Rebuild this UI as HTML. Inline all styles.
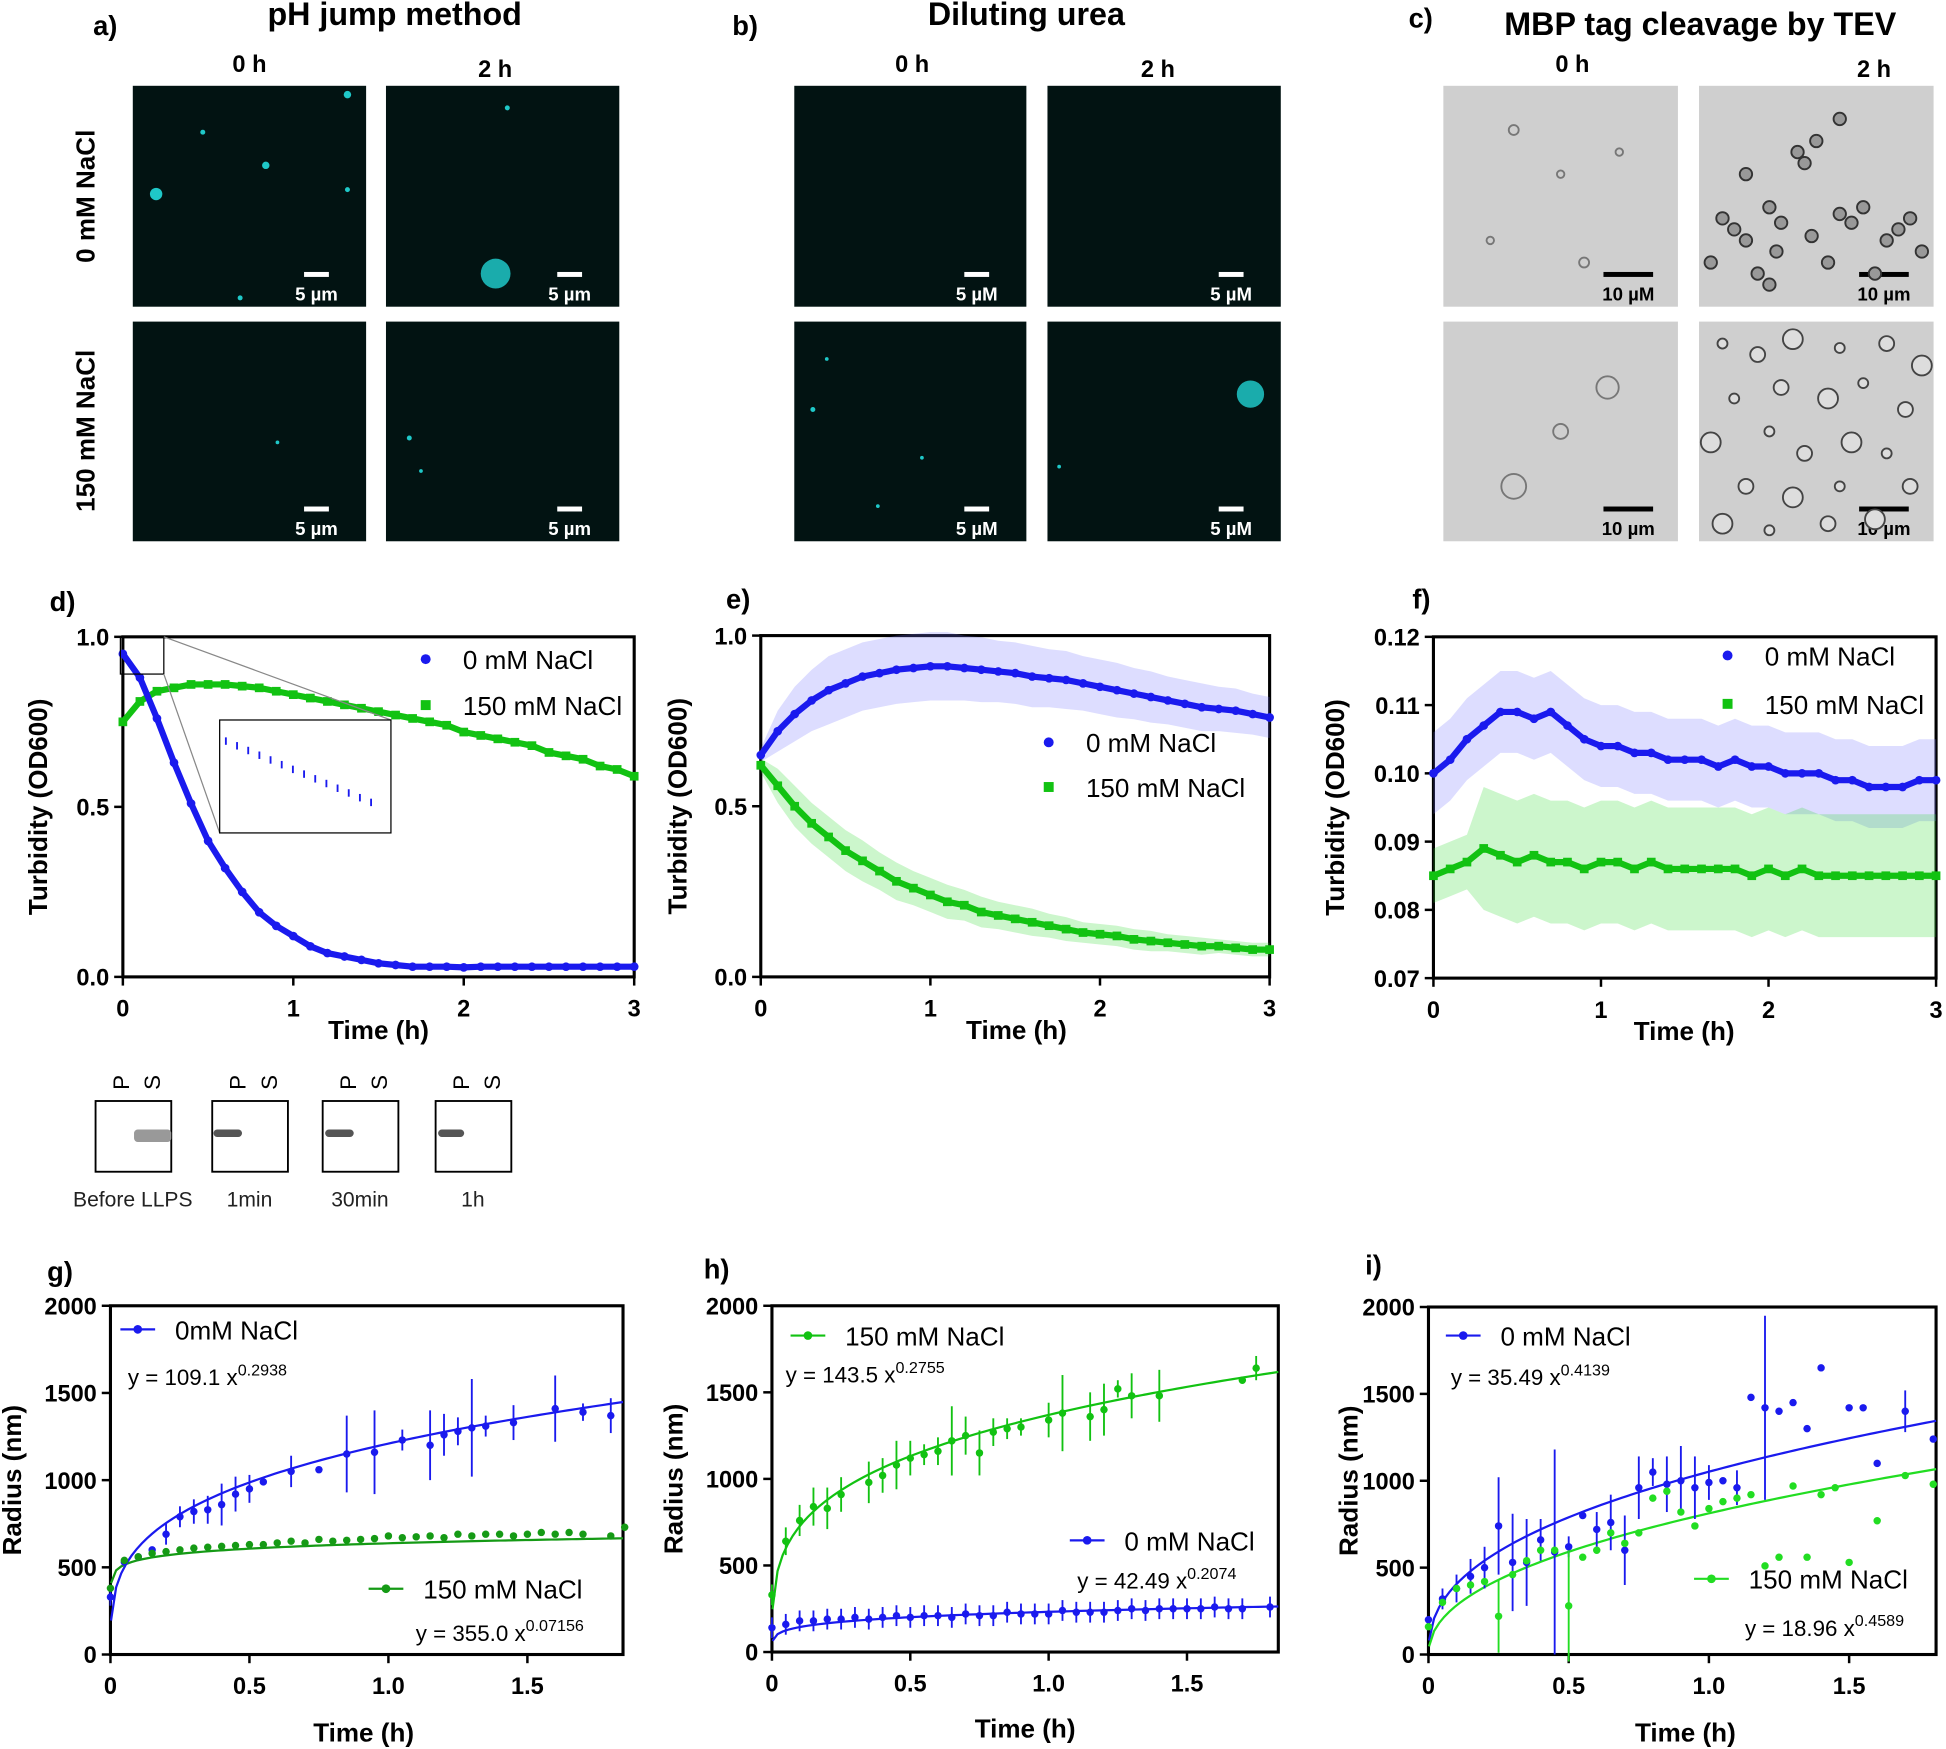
<!DOCTYPE html>
<html><head><meta charset="utf-8">
<style>
html,body{margin:0;padding:0;background:#fff;}
svg{display:block;font-family:"Liberation Sans",Arial,sans-serif;}
</style></head>
<body>
<svg id="fig" width="1946" height="1749" viewBox="0 0 1568 1409" xmlns="http://www.w3.org/2000/svg"></svg>
<script>
// ---------- DATA ----------
const turbTimes = [0,0.1,0.2,0.3,0.4,0.5,0.6,0.7,0.8,0.9,1.0,1.1,1.2,1.3,1.4,1.5,1.6,1.7,1.8,1.9,2.0,2.1,2.2,2.3,2.4,2.5,2.6,2.7,2.8,2.9,3.0];
const dBlue = [0.95,0.88,0.76,0.63,0.51,0.40,0.32,0.25,0.19,0.15,0.12,0.09,0.07,0.06,0.05,0.04,0.035,0.03,0.03,0.03,0.028,0.03,0.03,0.03,0.03,0.03,0.03,0.03,0.03,0.03,0.03];
const dGreen = [0.75,0.81,0.84,0.85,0.86,0.86,0.86,0.855,0.85,0.84,0.83,0.82,0.81,0.80,0.79,0.78,0.77,0.76,0.75,0.74,0.72,0.71,0.70,0.69,0.68,0.66,0.65,0.64,0.62,0.61,0.59];
const eBlue = [0.65,0.72,0.77,0.81,0.84,0.86,0.88,0.89,0.90,0.905,0.91,0.91,0.905,0.90,0.895,0.89,0.88,0.875,0.87,0.86,0.85,0.84,0.83,0.82,0.81,0.80,0.79,0.785,0.78,0.77,0.76];
const eBlueErr = [0.02,0.06,0.08,0.09,0.10,0.10,0.10,0.10,0.10,0.10,0.10,0.10,0.095,0.095,0.09,0.09,0.09,0.085,0.085,0.08,0.08,0.08,0.075,0.075,0.07,0.07,0.07,0.065,0.065,0.06,0.06];
const eGreen = [0.62,0.56,0.50,0.45,0.41,0.37,0.34,0.31,0.28,0.26,0.24,0.22,0.21,0.19,0.18,0.17,0.16,0.15,0.14,0.13,0.125,0.12,0.11,0.105,0.10,0.095,0.09,0.09,0.085,0.08,0.08];
const eGreenErr = [0.02,0.05,0.06,0.06,0.06,0.06,0.06,0.055,0.055,0.05,0.05,0.05,0.045,0.045,0.04,0.04,0.04,0.035,0.035,0.03,0.03,0.03,0.03,0.03,0.025,0.025,0.025,0.02,0.02,0.02,0.02];
const fBlue = [0.100,0.102,0.105,0.107,0.109,0.109,0.108,0.109,0.107,0.105,0.104,0.104,0.103,0.103,0.102,0.102,0.102,0.101,0.102,0.101,0.101,0.100,0.100,0.100,0.099,0.099,0.098,0.098,0.098,0.099,0.099];
const fGreen = [0.085,0.086,0.087,0.089,0.088,0.087,0.088,0.087,0.087,0.086,0.087,0.087,0.086,0.087,0.086,0.086,0.086,0.086,0.086,0.085,0.086,0.085,0.086,0.085,0.085,0.085,0.085,0.085,0.085,0.085,0.085];

const gBlueT = [0,0.05,0.1,0.15,0.2,0.25,0.3,0.35,0.4,0.45,0.5,0.55,0.65,0.75,0.85,0.95,1.05,1.15,1.2,1.25,1.3,1.35,1.45,1.6,1.7,1.8];
const gBlueV = [330,530,560,600,690,790,820,830,860,920,950,990,1050,1060,1150,1160,1230,1200,1260,1280,1300,1310,1330,1410,1390,1370];
const gBlueE = [50,40,40,40,60,60,70,80,120,100,80,40,90,40,220,240,60,200,120,80,280,60,100,190,50,100];
const gGreenT = [0,0.05,0.1,0.15,0.2,0.25,0.3,0.35,0.4,0.45,0.5,0.55,0.6,0.65,0.7,0.75,0.8,0.85,0.9,0.95,1.0,1.05,1.1,1.15,1.2,1.25,1.3,1.35,1.4,1.45,1.5,1.55,1.6,1.65,1.7,1.8,1.85];
const gGreenV = [380,540,560,580,590,600,610,615,620,625,630,630,640,650,640,660,650,655,660,665,680,670,675,680,670,690,680,690,690,680,690,700,690,700,690,680,730];
const hGreenT = [0,0.05,0.1,0.15,0.2,0.25,0.35,0.4,0.45,0.5,0.55,0.6,0.65,0.7,0.75,0.8,0.85,0.9,1.0,1.05,1.15,1.2,1.25,1.3,1.4,1.7,1.75];
const hGreenV = [330,640,760,840,830,910,980,1020,1080,1120,1140,1160,1220,1250,1150,1270,1290,1300,1340,1380,1360,1400,1520,1480,1480,1570,1640];
const hGreenE = [60,80,90,110,120,100,120,100,140,100,60,80,200,110,130,80,60,50,100,220,140,150,50,130,150,30,70];
const hBlueT = [0,0.05,0.1,0.15,0.2,0.25,0.3,0.35,0.4,0.45,0.5,0.55,0.6,0.65,0.7,0.75,0.8,0.85,0.9,0.95,1.0,1.05,1.1,1.15,1.2,1.25,1.3,1.35,1.4,1.45,1.5,1.55,1.6,1.65,1.7,1.8];
const hBlueV = [140,160,180,180,190,190,200,190,200,210,200,210,210,200,220,210,210,230,220,220,220,240,230,230,230,240,250,240,250,250,250,250,260,250,250,260];
const iBlueT = [0,0.05,0.1,0.15,0.2,0.25,0.3,0.35,0.4,0.45,0.5,0.55,0.6,0.65,0.7,0.75,0.8,0.85,0.9,0.95,1.0,1.05,1.1,1.15,1.2,1.25,1.3,1.35,1.4,1.5,1.55,1.6,1.7,1.8];
const iBlueV = [200,320,380,450,500,740,530,530,660,590,620,800,720,760,600,960,1050,980,1000,960,990,1000,960,1480,1420,1400,1450,1300,1650,1420,1420,1100,1400,1240];
const iBlueE = [40,60,80,100,120,280,280,250,120,590,60,40,100,160,200,180,80,160,200,180,100,40,100,40,530,40,40,40,40,40,40,40,120,40];
const iGreenT = [0,0.05,0.1,0.15,0.2,0.25,0.3,0.35,0.4,0.45,0.5,0.55,0.6,0.65,0.7,0.75,0.8,0.85,0.9,0.95,1.0,1.05,1.1,1.15,1.2,1.25,1.3,1.35,1.4,1.45,1.5,1.6,1.7,1.8];
const iGreenV = [160,300,380,400,420,220,460,540,600,600,280,560,600,700,640,700,900,940,820,740,840,880,900,920,510,560,970,560,920,960,530,770,1030,980];
const fitCoef = [109.1,355.0,143.5,42.49,35.49,18.96];
const fitExp = [0.2938,0.07156,0.2755,0.2074,0.4139,0.4589];

// ---------- helpers ----------
const svg = document.getElementById('fig');
const NS = 'http://www.w3.org/2000/svg';
function mk(tag, attrs, name, parent){
  const el = document.createElementNS(NS, tag);
  for (const k in attrs) el.setAttribute(k, attrs[k]);
  
  
  (parent||svg).appendChild(el);
  return el;
}
function txt(x,y,s,opts,name){
  const o = Object.assign({x:x,y:y,'font-size':20,fill:'#000'},opts||{});
  const t = mk('text',o,name);
  t.textContent = s;
  return t;
}
const BLUE='#1a1aee', GREEN='#12c212', LGREEN='#22dd22', DGREEN='#159a15';

// ---------- titles ----------
txt(75,28,'a)',{'font-weight':'bold','font-size':22},'panel-a-label');
txt(318,20,'pH jump method',{'font-weight':'bold','font-size':26,'text-anchor':'middle'},'panel-a-title');
txt(590,28,'b)',{'font-weight':'bold','font-size':22},'panel-b-label');
txt(827,20,'Diluting urea',{'font-weight':'bold','font-size':26,'text-anchor':'middle'},'panel-b-title');
txt(1135,22,'c)',{'font-weight':'bold','font-size':22},'panel-c-label');
txt(1370,28,'MBP tag cleavage by TEV',{'font-weight':'bold','font-size':26,'text-anchor':'middle'},'panel-c-title');
[[201,'0 h'],[399,'2 h'],[735,'0 h'],[933,'2 h'],[1267,'0 h'],[1510,'2 h']].forEach((p,i)=>{
  txt(p[0],i%2?62:58,p[1],{'font-weight':'bold','font-size':19,'text-anchor':'middle'},'time-header');
});
txt(0,0,'0 mM NaCl',{'font-weight':'bold','font-size':21,'text-anchor':'middle',transform:'translate(76,158) rotate(-90)'},'row-label-0mm');
txt(0,0,'150 mM NaCl',{'font-weight':'bold','font-size':21,'text-anchor':'middle',transform:'translate(76,347) rotate(-90)'},'row-label-150mm');

// ---------- micrographs ----------
function micro(x,y,w,h,gray,dots,scale,name){
  mk('rect',{x:x,y:y,width:w,height:h,fill:gray?'#cfcfcf':'#021312'},name);
  dots.forEach(d=>mk('circle',{cx:x+d[0]*w,cy:y+d[1]*h,r:d[2],fill:gray?'none':'#1fc8c8',stroke:gray?'#777':'none','stroke-width':gray?1.5:0,opacity:(!gray&&d[2]>8)?0.85:1},'droplet'));
  const bw = gray?40:20;
  mk('rect',{x:x+w-40-bw/2,y:y+h-28,width:bw,height:4,fill:gray?'#000':'#fff'},'scale-bar');
  txt(x+w-40,y+h-5,scale,{'font-size':15,'font-weight':'bold','text-anchor':'middle',fill:gray?'#000':'#fff'},'scale-label');
}
micro(107,69,188,178,false,[[0.1,0.49,5],[0.57,0.36,3],[0.3,0.21,2],[0.92,0.47,2],[0.92,0.04,3],[0.46,0.96,2]],'5 µm','micrograph-a-0h-0mm');
micro(311,69,188,178,false,[[0.47,0.85,12],[0.52,0.1,2]],'5 µm','micrograph-a-2h-0mm');
micro(107,259,188,177,false,[[0.62,0.55,1.5]],'5 µm','micrograph-a-0h-150mm');
micro(311,259,188,177,false,[[0.1,0.53,2],[0.15,0.68,1.5]],'5 µm','micrograph-a-2h-150mm');
micro(640,69,187,178,false,[],'5 µM','micrograph-b-0h-0mm');
micro(844,69,188,178,false,[],'5 µM','micrograph-b-2h-0mm');
micro(640,259,187,177,false,[[0.08,0.4,2],[0.14,0.17,1.5],[0.55,0.62,1.5],[0.36,0.84,1.5]],'5 µM','micrograph-b-0h-150mm');
micro(844,259,188,177,false,[[0.87,0.33,11],[0.05,0.66,1.5]],'5 µM','micrograph-b-2h-150mm');
micro(1163,69,189,178,true,[[0.3,0.2,4],[0.5,0.4,3],[0.75,0.3,3],[0.2,0.7,3],[0.6,0.8,4]],'10 µM','micrograph-c-0h-0mm');
micro(1369,69,189,178,true,[],'10 µm','micrograph-c-2h-0mm');
micro(1163,259,189,177,true,[[0.3,0.75,10],[0.7,0.3,9],[0.5,0.5,6]],'10 µm','micrograph-c-0h-150mm');
micro(1369,259,189,177,true,[],'10 µm','micrograph-c-2h-150mm');
const clA=[[0.1,0.6],[0.15,0.65],[0.2,0.7],[0.3,0.55],[0.35,0.62],[0.42,0.3],[0.45,0.35],[0.5,0.25],[0.6,0.58],[0.65,0.62],[0.7,0.55],[0.8,0.7],[0.85,0.65],[0.9,0.6],[0.25,0.85],[0.3,0.9],[0.55,0.8],[0.95,0.75],[0.05,0.8],[0.75,0.85],[0.2,0.4],[0.6,0.15],[0.33,0.75],[0.48,0.68]];
clA.forEach(p=>mk('circle',{cx:1369+p[0]*189,cy:69+p[1]*178,r:5,fill:'#999',stroke:'#333','stroke-width':1.5},'droplet-cluster'));
const clB=[[0.1,0.1],[0.25,0.15],[0.4,0.08],[0.6,0.12],[0.8,0.1],[0.95,0.2],[0.15,0.35],[0.35,0.3],[0.55,0.35],[0.7,0.28],[0.88,0.4],[0.05,0.55],[0.3,0.5],[0.45,0.6],[0.65,0.55],[0.8,0.6],[0.2,0.75],[0.4,0.8],[0.6,0.75],[0.9,0.75],[0.1,0.92],[0.3,0.95],[0.55,0.92],[0.75,0.9]];
clB.forEach((p,i)=>mk('circle',{cx:1369+p[0]*189,cy:259+p[1]*177,r:4+(i%3)*2,fill:'#ddd',stroke:'#444','stroke-width':1.5},'droplet'));

// ---------- axes ----------
function makeAxes(c){
  const g = mk('g',{},c.name);
  c.sx = v => c.x0 + (v-c.xmin)/(c.xmax-c.xmin)*(c.x1-c.x0);
  c.sy = v => c.y0 - (v-c.ymin)/(c.ymax-c.ymin)*(c.y0-c.y1);
  mk('rect',{x:c.x0,y:c.y1,width:c.x1-c.x0,height:c.y0-c.y1,fill:'none',stroke:'#000','stroke-width':2.5},'plot-frame',g);
  c.xt.forEach((v,i)=>{
    mk('line',{x1:c.sx(v),x2:c.sx(v),y1:c.y0,y2:c.y0+7,stroke:'#000','stroke-width':2},'x-tick',g);
    txt(c.sx(v),c.y0+32,c.xtl[i],{'font-size':19,'font-weight':'bold','text-anchor':'middle'},'x-tick-label');
  });
  c.yt.forEach((v,i)=>{
    mk('line',{x1:c.x0-7,x2:c.x0,y1:c.sy(v),y2:c.sy(v),stroke:'#000','stroke-width':2},'y-tick',g);
    txt(c.x0-11,c.sy(v)+7,c.ytl[i],{'font-size':19,'font-weight':'bold','text-anchor':'end'},'y-tick-label');
  });
  txt(c.xlx,c.xly,'Time (h)',{'font-size':21,'font-weight':'bold','text-anchor':'middle'},'x-axis-title');
  txt(0,0,c.yl,{'font-size':21,'font-weight':'bold','text-anchor':'middle',transform:`translate(${c.ylx},${(c.y0+c.y1)/2}) rotate(-90)`},'y-axis-title');
  return c;
}
const tickT=[0,1,2,3], tickTL=['0','1','2','3'];
const tT=[0,0.5,1,1.5], tTL=['0','0.5','1.0','1.5'];
const rT=[0,500,1000,1500,2000], rTL=['0','500','1000','1500','2000'];
const D = makeAxes({name:'chart-d',x0:99,x1:511,y0:787,y1:513,xmin:0,xmax:3,ymin:0,ymax:1,xt:tickT,xtl:tickTL,yt:[0,0.5,1],ytl:['0.0','0.5','1.0'],yl:'Turbidity (OD600)',ylx:38,xlx:305,xly:837});
const E = makeAxes({name:'chart-e',x0:613,x1:1023,y0:787,y1:512,xmin:0,xmax:3,ymin:0,ymax:1,xt:tickT,xtl:tickTL,yt:[0,0.5,1],ytl:['0.0','0.5','1.0'],yl:'Turbidity (OD600)',ylx:553,xlx:819,xly:837});
const F = makeAxes({name:'chart-f',x0:1155,x1:1560,y0:788,y1:513,xmin:0,xmax:3,ymin:0.07,ymax:0.12,xt:tickT,xtl:tickTL,yt:[0.07,0.08,0.09,0.10,0.11,0.12],ytl:['0.07','0.08','0.09','0.10','0.11','0.12'],yl:'Turbidity (OD600)',ylx:1083,xlx:1357,xly:838});
const G = makeAxes({name:'chart-g',x0:89,x1:502,y0:1333,y1:1052,xmin:0,xmax:1.844,ymin:0,ymax:2000,xt:tT,xtl:tTL,yt:rT,ytl:rTL,yl:'Radius (nm)',ylx:17,xlx:293,xly:1403});
const H = makeAxes({name:'chart-h',x0:622,x1:1030,y0:1331,y1:1052,xmin:0,xmax:1.83,ymin:0,ymax:2000,xt:tT,xtl:tTL,yt:rT,ytl:rTL,yl:'Radius (nm)',ylx:550,xlx:826,xly:1400});
const I = makeAxes({name:'chart-i',x0:1151,x1:1560,y0:1333,y1:1053,xmin:0,xmax:1.81,ymin:0,ymax:2000,xt:tT,xtl:tTL,yt:rT,ytl:rTL,yl:'Radius (nm)',ylx:1094,xlx:1358,xly:1403});

// ---------- turbidity series ----------
function band(c,t,v,e,color,name){
  let up=t.map((x,i)=>c.sx(x)+','+c.sy(v[i]+e[i])).join(' ');
  let dn=t.map((x,i)=>c.sx(x)+','+c.sy(v[i]-e[i])).reverse().join(' ');
  mk('polygon',{points:up+' '+dn,fill:color,opacity:0.25},name);
}
function turbSeries(c,t,v,color,shape,name){
  mk('polyline',{points:t.map((x,i)=>c.sx(x)+','+c.sy(v[i])).join(' '),fill:'none',stroke:color,'stroke-width':5},name+'-line');
  t.forEach((x,i)=>{
    if(shape==='sq') mk('rect',{x:c.sx(x)-3.5,y:c.sy(v[i])-3.5,width:7,height:7,fill:color},name+'-point');
    else mk('circle',{cx:c.sx(x),cy:c.sy(v[i]),r:3.5,fill:color},name+'-point');
  });
}
turbSeries(D,turbTimes,dGreen,GREEN,'sq','d-150mm');
turbSeries(D,turbTimes,dBlue,BLUE,'c','d-0mm');
band(E,turbTimes,eBlue,eBlueErr,'#7777ff','e-0mm-error');
band(E,turbTimes,eGreen,eGreenErr,'#33dd33','e-150mm-error');
turbSeries(E,turbTimes,eBlue,BLUE,'c','e-0mm');
turbSeries(E,turbTimes,eGreen,GREEN,'sq','e-150mm');
band(F,turbTimes,fBlue,fBlue.map(()=>0.006),'#7777ff','f-0mm-error');
band(F,turbTimes,fGreen,fGreen.map((v,i)=>i<3?0.004:0.009),'#33dd33','f-150mm-error');
turbSeries(F,turbTimes,fBlue,BLUE,'c','f-0mm');
turbSeries(F,turbTimes,fGreen,GREEN,'sq','f-150mm');
mk('rect',{x:97,y:513,width:35,height:30,fill:'none',stroke:'#000','stroke-width':1},'inset-region');
mk('line',{x1:132,y1:513,x2:315,y2:580,stroke:'#888','stroke-width':1},'inset-connector');
mk('line',{x1:132,y1:543,x2:177,y2:671,stroke:'#888','stroke-width':1},'inset-connector');
mk('rect',{x:177,y:580,width:138,height:91,fill:'#fff',stroke:'#000','stroke-width':1},'inset-box');
for(let k=0;k<14;k++) mk('line',{x1:182+k*9,x2:182+k*9,y1:594+k*3.8,y2:600+k*3.8,stroke:BLUE,'stroke-width':1.5},'inset-point');

function legTurb(x,y1,y2){
  mk('circle',{cx:x,cy:y1,r:4,fill:BLUE},'legend-marker-0mm');
  txt(x+30,y1+8,'0 mM NaCl',{'font-size':21},'legend-0mm');
  mk('rect',{x:x-4,y:y2-4,width:8,height:8,fill:GREEN},'legend-marker-150mm');
  txt(x+30,y2+8,'150 mM NaCl',{'font-size':21},'legend-150mm');
}
legTurb(343,531,568); legTurb(845,598,634); legTurb(1392,528,567);

// ---------- gels ----------
[[77,'Before LLPS',[108,110]],[171,'1min',[172,195]],[260,'30min',[262,285]],[351,'1h',[353,374]]].forEach((g,i)=>{
  mk('rect',{x:g[0],y:887,width:61,height:57,fill:'#fff',stroke:'#000','stroke-width':1.5},'gel-strip');
  mk('rect',{x:g[2][0],y:910,width:g[2][1]-g[2][0]+(i===0?28:0),height:i===0?10:6,fill:i===0?'#999':'#555',rx:3},'gel-band');
  txt(0,0,'P',{'font-size':18,transform:`translate(${g[0]+27},${878}) rotate(-90)`},'lane-label-p');
  txt(0,0,'S',{'font-size':18,transform:`translate(${g[0]+52},${878}) rotate(-90)`},'lane-label-s');
  txt(g[0]+30,972,g[1],{'font-size':17,'text-anchor':'middle',fill:'#222'},'gel-label');
});

// ---------- DLS charts ----------
function fit(c,k,color,name){
  const a=fitCoef[k], b=fitExp[k]; const pts=[];
  for(let i=0;i<=100;i++){const t=0.002+i*(c.xmax-0.002)/100; const v=a*Math.pow(t*3600,b); pts.push(c.sx(t)+','+c.sy(Math.min(v,2000)));}
  mk('polyline',{points:pts.join(' '),fill:'none',stroke:color,'stroke-width':1.8},name);
}
function pts(c,t,v,e,color,name){
  t.forEach((x,i)=>{
    if(e && e[i]>40) mk('line',{x1:c.sx(x),x2:c.sx(x),y1:c.sy(v[i]-e[i]),y2:c.sy(v[i]+e[i]),stroke:color,'stroke-width':1.5},name+'-errorbar');
    mk('circle',{cx:c.sx(x),cy:c.sy(v[i]),r:3,fill:color},name+'-point');
  });
}
fit(G,0,BLUE,'g-0mm-fit'); fit(G,1,DGREEN,'g-150mm-fit');
pts(G,gBlueT,gBlueV,gBlueE,BLUE,'g-0mm'); pts(G,gGreenT,gGreenV,null,DGREEN,'g-150mm');
fit(H,2,GREEN,'h-150mm-fit'); fit(H,3,BLUE,'h-0mm-fit');
pts(H,hGreenT,hGreenV,hGreenE,GREEN,'h-150mm'); pts(H,hBlueT,hBlueV,hBlueV.map(()=>60),BLUE,'h-0mm');
fit(I,4,BLUE,'i-0mm-fit'); fit(I,5,LGREEN,'i-150mm-fit');
pts(I,iBlueT,iBlueV,iBlueE,BLUE,'i-0mm'); pts(I,iGreenT,iGreenV,iGreenV.map((v,i)=>i===5?210:(i===10?320:0)),LGREEN,'i-150mm');

function legDLS(x,y,color,label,ex,ey,coef,exp){
  mk('line',{x1:x,x2:x+28,y1:y,y2:y,stroke:color,'stroke-width':1.8},'legend-line');
  mk('circle',{cx:x+14,cy:y,r:3.5,fill:color},'legend-marker');
  txt(x+44,y+8,label,{'font-size':21},'legend-label');
  const t=txt(ex,ey,'y = '+coef+' x',{'font-size':18},'fit-equation');
  const s=document.createElementNS(NS,'tspan'); s.setAttribute('dy','-8'); s.setAttribute('font-size','13'); s.textContent=exp; t.appendChild(s);
}
legDLS(97,1071,BLUE,'0mM NaCl',103,1116,'109.1','0.2938');
legDLS(297,1280,DGREEN,'150 mM NaCl',335,1322,'355.0','0.07156');
legDLS(637,1076,GREEN,'150 mM NaCl',633,1114,'143.5','0.2755');
legDLS(862,1241,BLUE,'0 mM NaCl',868,1280,'42.49','0.2074');
legDLS(1165,1076,BLUE,'0 mM NaCl',1169,1116,'35.49','0.4139');
legDLS(1365,1272,LGREEN,'150 mM NaCl',1406,1318,'18.96','0.4589');

[[38,1032,'g)'],[567,1030,'h)'],[1100,1027,'i)'],[40,492,'d)'],[585,490,'e)'],[1138,490,'f)']].forEach(p=>txt(p[0],p[1],p[2],{'font-weight':'bold','font-size':22},'panel-label'));
</script>
</body></html>
